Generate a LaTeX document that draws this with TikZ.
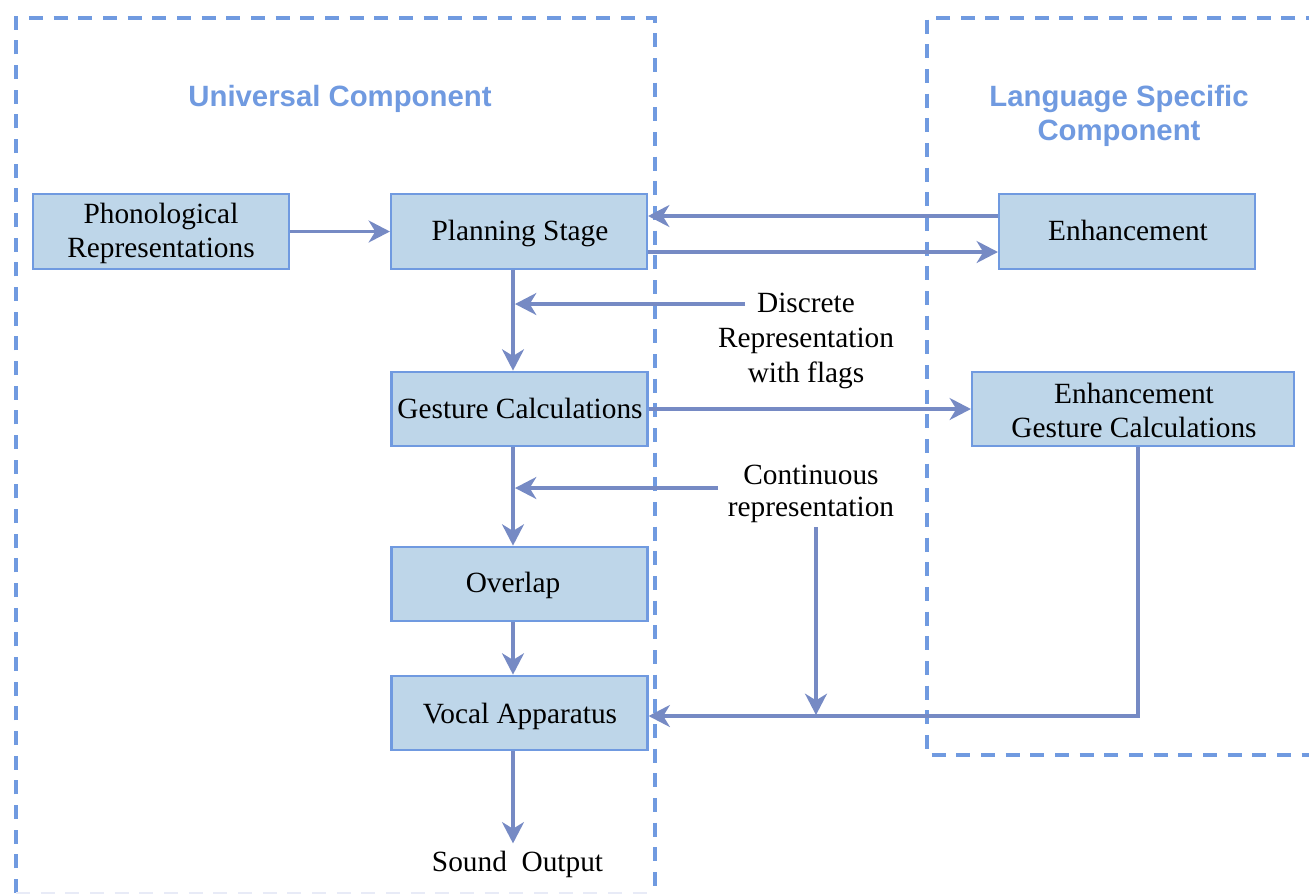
\documentclass[tikz,border=0pt]{standalone}
\usepackage{fontspec}
\setmainfont{Liberation Serif}
\newfontfamily\titlefont{Liberation Sans}
\usetikzlibrary{arrows.meta,calc}
\definecolor{boxfill}{RGB}{190,214,233}
\definecolor{boxline}{RGB}{112,154,224}
\definecolor{arrcol}{RGB}{118,138,196}
\definecolor{faintline}{RGB}{232,235,247}
\tikzset{
  box/.style={draw=boxline, line width=1.6pt, fill=boxfill, inner sep=0pt,
    minimum width=192pt, minimum height=56pt},
  txt/.style={anchor=base, inner sep=0pt, font=\fontsize{22}{26.3}\selectfont},
  ttl/.style={anchor=base, inner sep=0pt, text=boxline, font=\titlefont\bfseries\fontsize{22}{25.5}\selectfont},
  arr/.style={draw=arrcol, line width=2.3pt, -{Stealth[length=16pt,width=16.5pt,inset=5pt]}},
  dashbox/.style={draw=boxline, line width=2.3pt, dash pattern=on 10.5pt off 8pt}
}
\begin{document}
\begin{tikzpicture}[x=0.75pt,y=-0.75pt]
\useasboundingbox (0,0) rectangle (1309,894);
% component frames
\draw[dashbox] (16,893) -- (16,18) -- (655,18) -- (655,893);
\draw[draw=faintline, line width=2pt, dash pattern=on 10.5pt off 8pt] (16,893) -- (655,893);
\draw[dashbox] (1320,18) -- (927,18) -- (927,755) -- (1320,755);
\node[ttl] (tu) at (340,106) {Universal Component};
\node[ttl] (tl1) at (1119,106) {Language Specific};
\node[ttl] (tl2) at (1119,140) {Component};
% boxes
\node[box] (phon) at (161,231.5) {};
\node[box] (plan) at (519,231.5) {};
\node[box] (enh) at (1127,231.5) {};
\node[box] (gest) at (519.5,409) {};
\node[box, minimum width=241.5pt] (eg) at (1133,409) {};
\node[box] (ovl) at (519.5,584) {};
\node[box] (voc) at (519.5,713) {};
% box texts
\node[txt] (phon1) at (161,223) {Phonological};
\node[txt] (phon2) at (161,257) {Representations};
\node[txt] (plant) at (520,240) {Planning Stage};
\node[txt] (enht) at (1128,240) {Enhancement};
\node[txt] (gestt) at (520,418) {Gesture Calculations};
\node[txt] (eg1) at (1134,403) {Enhancement};
\node[txt] (eg2) at (1134,437) {Gesture Calculations};
\node[txt] (ovlt) at (513,592) {Overlap};
\node[txt] (voct) at (520,723) {Vocal Apparatus};
% free labels
\node[txt] (snd) at (517.5,871) {Sound\ \ Output};
\node[txt] (disc1) at (806,312) {Discrete};
\node[txt] (disc2) at (806,347) {Representation};
\node[txt] (disc3) at (806,382) {with flags};
\node[txt] (cont1) at (811,484) {Continuous};
\node[txt] (cont2) at (811,516) {representation};
% helper coordinates
\coordinate (colx) at (513,0);
\coordinate (r1) at (0,216);
\coordinate (r2) at (0,252);
\coordinate (d1) at (745,304);
\coordinate (c1) at (718,488);
\coordinate (c2) at (816,527);
\coordinate (vy) at (0,716);
\coordinate (egx) at (1138,0);
% connectors
\draw[arr] (phon) -- (plan);
\draw[arr] (enh.west |- r1) -- (plan.east |- r1);
\draw[arr] (plan.east |- r2) -- (enh.west |- r2);
\draw[arr] (plan.south -| colx) -- (gest.north -| colx);
\draw[arr] (d1) -- ($(d1 -| colx)+(2,0)$);
\draw[arr] (gest.east) -- (eg.west);
\draw[arr] (gest.south -| colx) -- (ovl.north -| colx);
\draw[arr] (c1) -- ($(c1 -| colx)+(2,0)$);
\draw[arr] (ovl.south -| colx) -- (voc.north -| colx);
\draw[arr] (eg.south -| egx) |- (voc.east |- vy);
\draw[arr] (c2) -- ($(c2 |- vy)+(0,-1)$);
\draw[arr] (voc.south -| colx) -- ($(snd.north -| colx)+(0,-7)$);
\end{tikzpicture}
\end{document}
